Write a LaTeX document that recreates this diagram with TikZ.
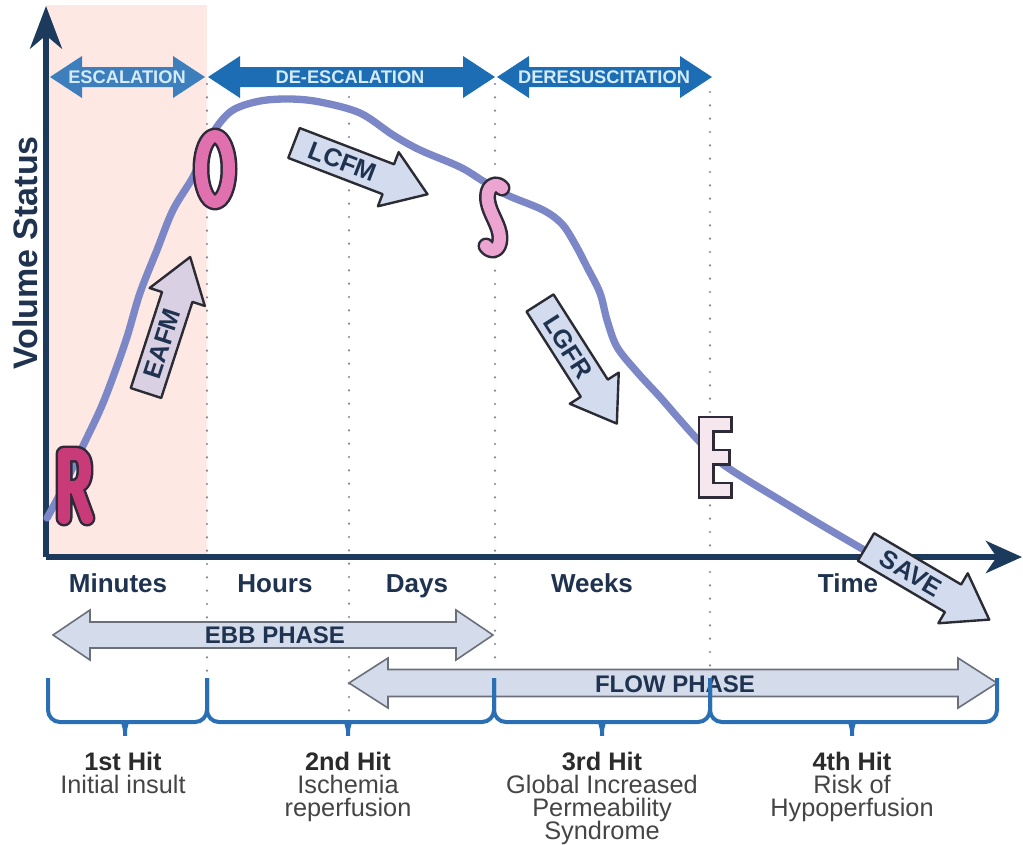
\documentclass[tikz,border=0pt]{standalone}
\usepackage{fontspec}
\setmainfont{Liberation Sans}
\usetikzlibrary{arrows.meta}

\definecolor{navy}{HTML}{1B3A5C}
\definecolor{labelnavy}{HTML}{1F3350}
\definecolor{curveblue}{HTML}{7B87C6}
\definecolor{topblue}{HTML}{1C6DB4}
\definecolor{escblue}{HTML}{3D7EBD}
\definecolor{toptextc}{HTML}{D4ECFA}
\definecolor{blockfill}{HTML}{D3DCEF}
\definecolor{eafmfill}{HTML}{D9D0E3}
\definecolor{blockline}{HTML}{2B2B33}
\definecolor{phasefill}{HTML}{D4DCEC}
\definecolor{phaseline}{HTML}{6B6F7A}
\definecolor{bracec}{HTML}{2A6FB3}
\definecolor{dotc}{HTML}{7D8699}
\definecolor{pinkbg}{HTML}{FDE8E3}
\definecolor{letterline}{HTML}{2E2A3A}
\definecolor{rfill}{HTML}{C83A78}
\definecolor{ofill}{HTML}{E070AE}
\definecolor{sfill}{HTML}{EBA5D0}
\definecolor{efill}{HTML}{F6E6EE}
\definecolor{hitbold}{HTML}{2B2B2B}
\definecolor{hitreg}{HTML}{454545}

\tikzset{
  axisline/.style={draw=navy, line width=4.5pt},
  dotline/.style={draw=dotc, line width=1.8pt, line cap=round, dash pattern=on 0pt off 10pt},
  curve/.style={draw=curveblue, line width=5.5pt, line cap=round, line join=round},
  letter/.style={line width=9pt, line cap=round, line join=round,
    preaction={draw=letterline, line width=12.75pt, line cap=round, line join=round}},
  squareletter/.style={line width=8.6pt, line cap=rect, line join=miter,
    preaction={draw=letterline, line width=12.75pt, line cap=rect, line join=miter}},
  toparrow/.style={fill=topblue, draw=none},
  toptext/.style={text=toptextc, font=\bfseries\fontsize{13.7}{15}\selectfont, inner sep=0pt},
  blockbody/.style={draw=blockline, line width=1.8pt, line join=round},
  blocktext/.style={text=labelnavy, font=\bfseries\fontsize{19}{21}\selectfont, inner sep=0pt},
  phasebody/.style={fill=phasefill, draw=phaseline, line width=1.2pt},
  phasetext/.style={text=labelnavy, font=\bfseries\fontsize{18}{20}\selectfont, inner sep=0pt},
  timetext/.style={text=labelnavy, font=\bfseries\fontsize{19.5}{21}\selectfont, inner sep=0pt, anchor=base},
  bracestyle/.style={draw=bracec, line width=3pt, rounded corners=9pt},
  hithead/.style={text=hitbold, font=\bfseries\fontsize{19}{21}\selectfont, inner sep=0pt, anchor=base},
  hitline/.style={text=hitreg, font=\fontsize{19}{21}\selectfont, inner sep=0pt, anchor=base},
}

% horizontal double-headed arrow: style, left tip x, right tip x, centre y,
% half shaft height, half head height, head length
\newcommand\dblarrow[7]{%
  \path[#1] (#2,#4) -- ({#2+#7},{#4-#6}) -- ({#2+#7},{#4-#5}) -- ({#3-#7},{#4-#5})
    -- ({#3-#7},{#4-#6}) -- (#3,#4) -- ({#3-#7},{#4+#6}) -- ({#3-#7},{#4+#5})
    -- ({#2+#7},{#4+#5}) -- ({#2+#7},{#4+#6}) -- cycle;}

% slanted block arrow: fill, node name, tail centre x, tail centre y, angle, label
\newcommand\blockarrow[6]{%
  \begin{scope}[shift={(#3,#4)},rotate=#5]
    \path[blockbody,fill=#1] (0,-16) -- (101,-16) -- (101,-29) -- (143,0)
      -- (101,29) -- (101,16) -- (0,16) -- cycle;
    \node[blocktext,rotate=#5] (#2) at (52,0) {#6};
  \end{scope}}

% curly brace under the time line: name of tip, left x, right x, tip x
\newcommand\hitbrace[4]{%
  \coordinate (#1) at (#4,743);
  \draw[bracestyle] (#2,678) -- (#2,722) -- ({#4-13},722)
    .. controls ({#4-3},722) and (#4,727) .. (#1)
    .. controls (#4,727) and ({#4+3},722) .. ({#4+13},722)
    -- (#3,722) -- (#3,678);}

\begin{document}
\begin{tikzpicture}[x=0.75pt,y=-0.75pt]
\useasboundingbox (0,0) rectangle (1023,844);
\fill[white] (0,0) rectangle (1023,844);

% early resuscitation window
\fill[pinkbg] (46,5) rectangle (207,557);

% phase separators
\draw[dotline] (207,84) -- (207,672);
\draw[dotline] (349,97) -- (349,716);
\draw[dotline] (495,84) -- (495,662);
\draw[dotline] (710,92) -- (710,668);

% axes
\coordinate (origin) at (46,557);
\coordinate (ytop) at (46,6);
\coordinate (xend) at (1022,557);
\draw[axisline, -{Stealth[length=32pt, width=24pt, inset=10pt]}] (origin) -- (ytop);
\draw[axisline, -{Stealth[length=27pt, width=24pt, inset=8pt]}] (origin) -- (xend);
\node[rotate=90, text=labelnavy, font=\bfseries\fontsize{25.5}{28}\selectfont, inner sep=0pt]
  (ylab) at (25,253) {Volume Status};

% management stages along the top
\dblarrow{fill=escblue}{50}{205}{77}{10}{21}{32}
\dblarrow{toparrow}{208}{495}{77}{10}{21}{32}
\dblarrow{toparrow}{497}{712}{77}{10}{21}{32}
\node[toptext] (esc) at (127,77) {ESCALATION};
\node[toptext] (desc) at (350,77) {DE-ESCALATION};
\node[toptext] (deres) at (604,77) {DERESUSCITATION};

% volume status curve
\coordinate (cstart) at (47,518);
\coordinate (cend) at (866,551);
\draw[curve] plot[smooth, tension=0.55] coordinates {
  (47,518) (62,490) (80,452) (100,410) (113,377) (127,337) (140,293)
  (157,250) (173,210) (193,177) (205,150) (216,128) (233,110) (260,101)
  (290,99) (320,102) (360,113) (393,135) (420,150) (460,167) (483,181)
  (507,195) (543,210) (562,224) (575,244) (587,267) (600,293) (607,320)
  (617,347) (637,372) (660,397) (680,420) (698,440) (720,462) (747,480)
  (780,500) (813,520) (847,540) (866,551)};

% R
\draw[letter, draw=rfill] (64,454) -- (64,518)
  (64,454) -- (75,454) .. controls (83,454) and (85,461) .. (85,470)
  .. controls (85,481) and (81,487) .. (73,487) -- (64,487)
  (76,488) -- (87,518);
% O
\draw[letter, draw=ofill] (215,169) ellipse [x radius=14, y radius=33];
% S
\draw[letter, draw=sfill] (502,188) .. controls (496,181) and (485,186) .. (488,202)
  .. controls (490,214) and (500,226) .. (500,238)
  .. controls (500,251) and (491,253) .. (486,246);
% E
\draw[squareletter, draw=efill] (724,424) -- (706,424) -- (706,490) -- (724,490)
  (706,457) -- (722,457);

% fluid management arrows
\blockarrow{eafmfill}{eafm}{146}{393}{72}{EAFM}
\blockarrow{blockfill}{lcfm}{294}{143}{-21}{LCFM}
\blockarrow{blockfill}{lgfr}{540}{303}{-57.5}{LGFR}
\blockarrow{blockfill}{save}{866}{547}{-30.5}{SAVE}

% time scale
\node[timetext] (tmin) at (118,592) {Minutes};
\node[timetext] (thr) at (275,592) {Hours};
\node[timetext] (tday) at (417,592) {Days};
\node[timetext] (twk) at (592,592) {Weeks};
\node[timetext] (ttime) at (848,592) {Time};

% ebb and flow phases
\dblarrow{phasebody}{53}{493}{635}{13}{25}{37}
\node[phasetext] (ebb) at (275,635) {EBB PHASE};
\dblarrow{phasebody}{349}{997}{683}{13.5}{25}{39}
\node[phasetext] (flow) at (675,684) {FLOW PHASE};

% hits
\hitbrace{b1}{48}{207}{125}
\hitbrace{b2}{207}{494}{348}
\hitbrace{b3}{494}{710}{602}
\hitbrace{b4}{710}{997}{852}

\node[hithead] (h1) at (123,770) {1st Hit};
\node[hitline] (h1a) at (123,793) {Initial insult};
\node[hithead] (h2) at (348,770) {2nd Hit};
\node[hitline] (h2a) at (348,793) {Ischemia};
\node[hitline] (h2b) at (348,816) {reperfusion};
\node[hithead] (h3) at (602,770) {3rd Hit};
\node[hitline] (h3a) at (602,793) {Global Increased};
\node[hitline] (h3b) at (602,816) {Permeability};
\node[hitline] (h3c) at (602,839) {Syndrome};
\node[hithead] (h4) at (852,770) {4th Hit};
\node[hitline] (h4a) at (852,793) {Risk of};
\node[hitline] (h4b) at (852,816) {Hypoperfusion};
\end{tikzpicture}
\end{document}
